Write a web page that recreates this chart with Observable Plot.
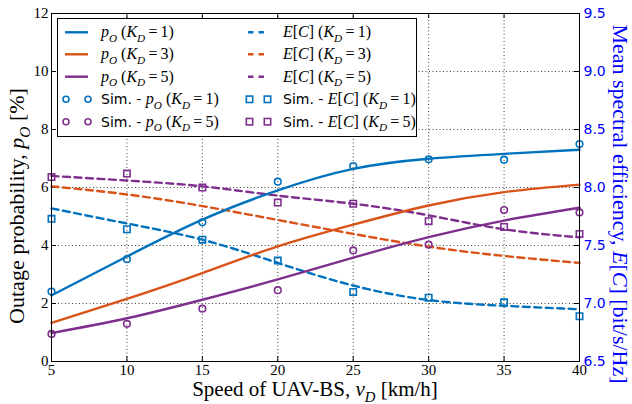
<!DOCTYPE html>
<html><head><meta charset="utf-8">
<script src="https://cdn.jsdelivr.net/npm/d3@7"></script>
<script src="https://cdn.jsdelivr.net/npm/@observablehq/plot@0.6"></script>
<style>body{margin:0;background:#fff}#chart{width:632px;height:404px}</style>
</head><body><div id="chart"></div>
<script>
// ---- data ----
const speeds = [5, 10, 15, 20, 25, 30, 35, 40];
// analytical outage probability p_O [%]
const pO_K1 = [2.28, 3.62, 4.89, 5.90, 6.64, 6.99, 7.16, 7.30];
const pO_K3 = [1.33, 2.16, 3.05, 3.97, 4.72, 5.38, 5.84, 6.10];
const pO_K5 = [0.98, 1.49, 2.13, 2.83, 3.58, 4.29, 4.86, 5.30];
// analytical mean spectral efficiency E[C] [bit/s/Hz]
const EC_K1 = [7.82, 7.69, 7.55, 7.35, 7.155, 7.03, 6.98, 6.95];
const EC_K3 = [8.01, 7.94, 7.84, 7.72, 7.60, 7.49, 7.41, 7.35];
const EC_K5 = [8.10, 8.06, 8.01, 7.93, 7.86, 7.76, 7.64, 7.57];
// simulation
const simPO_K1 = [2.41, 3.53, 4.80, 6.20, 6.74, 6.97, 6.96, 7.50];
const simPO_K5 = [0.95, 1.30, 1.82, 2.46, 3.83, 4.03, 5.22, 5.14];
const simEC_K1 = [7.73, 7.64, 7.55, 7.37, 7.10, 7.05, 7.01, 6.89];
const simEC_K5 = [8.09, 8.12, 8.00, 7.87, 7.86, 7.71, 7.66, 7.60];
// axes
const xTicks = [5, 10, 15, 20, 25, 30, 35, 40];
const yTicks = [0, 2, 4, 6, 8, 10, 12];
const rightTicks = [6.5, 7.0, 7.5, 8.0, 8.5, 9.0, 9.5];
const pDomain = [0, 12];
const eDomain = [6.5, 9.5];

// ---- layout / style ----
const W = 632, H = 404, mL = 51, mR = 53, mT = 13, mB = 43;
const C = {1: "#0072BD", 3: "#D95319", 5: "#7E2F8E"};
const eToY = e => (e - eDomain[0]) * (pDomain[1] - pDomain[0]) / (eDomain[1] - eDomain[0]);
const yToE = y => eDomain[0] + y * (eDomain[1] - eDomain[0]) / (pDomain[1] - pDomain[0]);

const series = (arr, k, kind) => speeds.map((v, i) => ({v, y: kind === "E" ? eToY(arr[i]) : arr[i], k}));
const lineP = [...series(pO_K1, 1, "P"), ...series(pO_K3, 3, "P"), ...series(pO_K5, 5, "P")];
const lineE = [...series(EC_K1, 1, "E"), ...series(EC_K3, 3, "E"), ...series(EC_K5, 5, "E")];
const circ = [...series(simPO_K1, 1, "P"), ...series(simPO_K5, 5, "P")];
const sq = [...series(simEC_K1, 1, "E"), ...series(simEC_K5, 5, "E")];

const plotH = H - mT - mB;
const tkY = 5 * (pDomain[1] - pDomain[0]) / plotH;         // 5px inward tick, y units
const tkX = 5 * (40 - 5) / (W - mL - mR);                     // 5px inward tick, x units

const svg = Plot.plot({
  width: W, height: H,
  marginLeft: mL, marginRight: mR, marginTop: mT, marginBottom: mB,
  style: {fontFamily: "Liberation Serif", fontSize: "15px", background: "#fff", color: "#000"},
  x: {domain: [5, 40], label: null},
  y: {domain: pDomain, label: null},
  marks: [
    Plot.ruleX(xTicks.slice(1, -1), {stroke: "#000", strokeOpacity: 0.75, strokeDasharray: "1,2.5"}),
    Plot.ruleY(yTicks.slice(1, -1), {stroke: "#000", strokeOpacity: 0.75, strokeDasharray: "1,2.5"}),
    // inward ticks
    Plot.ruleX(xTicks, {x: d => d, y1: 0, y2: tkY, stroke: "#000"}),
    Plot.ruleX(xTicks, {x: d => d, y1: 12 - tkY, y2: 12, stroke: "#000"}),
    Plot.ruleY(yTicks, {y: d => d, x1: 5, x2: 5 + tkX, stroke: "#000"}),
    Plot.ruleY(yTicks, {y: d => d, x1: 40 - tkX, x2: 40, stroke: "#000"}),
    Plot.line(lineE, {x: "v", y: "y", z: "k", stroke: d => C[d.k], strokeWidth: 2.4, strokeDasharray: "7,4.5", curve: "natural"}),
    Plot.line(lineP, {x: "v", y: "y", z: "k", stroke: d => C[d.k], strokeWidth: 2.4, curve: "natural"}),
    Plot.dot(circ, {x: "v", y: "y", stroke: d => C[d.k], r: 3.3, strokeWidth: 1.6, fill: "none"}),
    Plot.dot(sq, {x: "v", y: "y", stroke: d => C[d.k], symbol: "square", r: 3.6, strokeWidth: 1.6, fill: "none"}),
    Plot.frame({stroke: "#000"}),
    Plot.axisX({ticks: xTicks, tickSize: 0, tickPadding: 3, label: null, tickFormat: d => d}),
    Plot.axisY({ticks: yTicks, tickSize: 0, tickPadding: 3, label: null, tickFormat: d => d}),
    Plot.axisY({anchor: "right", ticks: rightTicks.map(eToY), tickSize: 0, tickPadding: 4, label: null,
      tickFormat: d => yToE(d).toFixed(1), fill: "#0000ff", fontFamily: "DejaVu Sans", fontSize: 14})
  ]
});
document.getElementById("chart").appendChild(svg);

// ---- text helpers ----
const root = d3.select(svg);
function mathText(g, x, y, parts, o) {
  const t = g.append("text").attr("x", x).attr("y", y)
    .attr("font-family", o.family || "Liberation Serif").attr("font-size", o.size)
    .attr("fill", o.fill || "#000").attr("text-anchor", o.anchor || "start");
  if (o.transform) t.attr("transform", o.transform);
  let shift = 0;
  for (const p of parts) {
    const s = t.append("tspan").text(p.t);
    if (p.it) s.attr("font-style", "italic");
    if (p.sans) s.attr("font-family", "DejaVu Sans").attr("font-size", o.sansSize || o.size * 0.88);
    const want = p.sub ? o.size * 0.28 : 0;
    if (want !== shift) { s.attr("dy", want - shift); shift = want; }
    if (p.sub) s.attr("font-size", o.size * 0.7);
  }
  return t;
}
const pO = k => [{t: "p", it: 1}, {t: "O", it: 1, sub: 1}, {t: " ("}, {t: "K", it: 1}, {t: "D", it: 1, sub: 1}, {t: "\u2009=\u2009" + k + ")"}];
const EC = k => [{t: "E", it: 1}, {t: "["}, {t: "C", it: 1}, {t: "]"}, {t: " ("}, {t: "K", it: 1}, {t: "D", it: 1, sub: 1}, {t: "\u2009=\u2009" + k + ")"}];

// axis titles
mathText(root, 315, 396, [{t: "Speed of UAV-BS, "}, {t: "v", it: 1}, {t: "D", it: 1, sub: 1}, {t: " [km/h]"}],
  {size: 21, anchor: "middle"});
mathText(root, 0, 0, [{t: "Outage probability, "}, {t: "p", it: 1}, {t: "O", it: 1, sub: 1}, {t: " [%]"}],
  {size: 22, anchor: "middle", transform: "translate(24,206) rotate(-90)"});
mathText(root, 0, 0, [{t: "Mean spectral efficiency, "}, {t: "E", it: 1}, {t: "["}, {t: "C", it: 1}, {t: "]"}, {t: " [bit/s/Hz]"}],
  {size: 22, anchor: "middle", fill: "#0000ff", transform: "translate(613,204) rotate(90)"});

// legend
const lg = root.append("g");
lg.append("rect").attr("x", 57.5).attr("y", 18.5).attr("width", 359).attr("height", 118)
  .attr("fill", "#fff").attr("stroke", "#000");
const rows = [32.3, 54.3, 76.7, 99.3, 121.7];
const items = [
  {col: 0, row: 0, kind: "solid", k: 1, parts: pO(1)},
  {col: 0, row: 1, kind: "solid", k: 3, parts: pO(3)},
  {col: 0, row: 2, kind: "solid", k: 5, parts: pO(5)},
  {col: 0, row: 3, kind: "circle", k: 1, parts: [{t: "Sim. - ", sans: 1}, ...pO(1)]},
  {col: 0, row: 4, kind: "circle", k: 5, parts: [{t: "Sim. - ", sans: 1}, ...pO(5)]},
  {col: 1, row: 0, kind: "dash", k: 1, parts: EC(1)},
  {col: 1, row: 1, kind: "dash", k: 3, parts: EC(3)},
  {col: 1, row: 2, kind: "dash", k: 5, parts: EC(5)},
  {col: 1, row: 3, kind: "square", k: 1, parts: [{t: "Sim. - ", sans: 1}, ...EC(1)]},
  {col: 1, row: 4, kind: "square", k: 5, parts: [{t: "Sim. - ", sans: 1}, ...EC(5)]}
];
for (const it of items) {
  const y = rows[it.row], c = C[it.k];
  const x0 = it.col ? 248 : 65, x1 = it.col ? 264 : 88, tx = it.col ? 283 : 101;
  if (it.kind === "solid" || it.kind === "dash") {
    const ln = lg.append("line").attr("x1", x0).attr("x2", x1).attr("y1", y).attr("y2", y)
      .attr("stroke", c).attr("stroke-width", 2.4);
    if (it.kind === "dash") ln.attr("stroke-dasharray", "5.5,5");
  } else if (it.kind === "circle") {
    for (const cx of [66, 88]) lg.append("circle").attr("cx", cx).attr("cy", y).attr("r", 3)
      .attr("fill", "none").attr("stroke", c).attr("stroke-width", 1.6);
  } else {
    for (const cx of [249.5, 267.5]) lg.append("rect").attr("x", cx - 3.2).attr("y", y - 3.2)
      .attr("width", 6.4).attr("height", 6.4).attr("fill", "none").attr("stroke", c).attr("stroke-width", 1.6);
  }
  mathText(lg, tx, y + 5, it.parts, {size: 16, sansSize: 14});
}
</script></body></html>
